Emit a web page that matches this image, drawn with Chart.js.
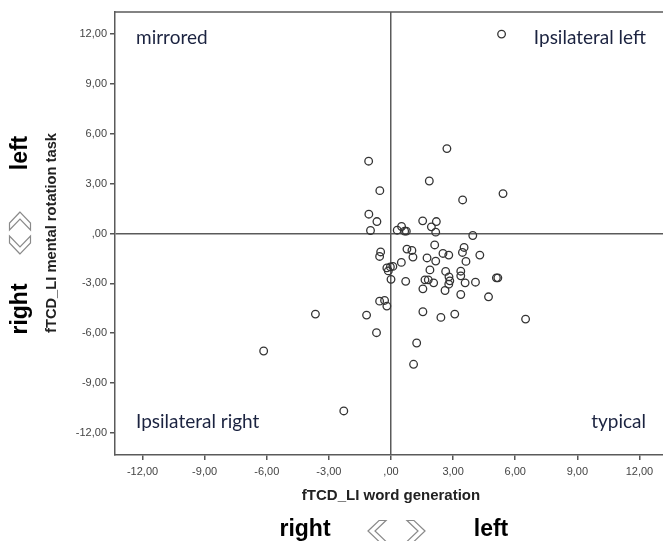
<!DOCTYPE html>
<html lang="en">
<head>
  <meta charset="UTF-8" />
  <title>fTCD LI scatter</title>
  <style>
    html, body { margin: 0; padding: 0; background: #fff; overflow: hidden; }
    .wrap { width: 663px; height: 541px; overflow: hidden; }
  </style>
  <script src="https://cdn.jsdelivr.net/npm/chart.js"></script>
</head>
<body>
  <div class="wrap">
    <canvas id="chart" width="680" height="541"></canvas>
  </div>
<script>
  // word generation LI (x) / mental rotation LI (y), one pair per participant
  const wordGen = [5.34, -1.08, 2.70, -0.54, 1.85, 5.41, 3.46, -1.07, -0.68, -0.99,
    1.53, 2.19, 1.95, 2.16, 0.51, 0.30, 0.66, 0.74, 3.95, 2.11,
    3.53, 3.45, 4.29, -0.50, -0.55, 0.77, 1.01, 1.06, 1.74, 2.16,
    2.51, 2.79, 3.62, 0.50, -0.20, -0.03, 0.09, -0.13, 0.00, 0.71,
    1.88, 2.64, 3.37, 3.37, 2.80, 2.84, 2.79, 1.64, 1.80, 2.06,
    3.58, 4.08, 5.09, 5.16, 1.54, 2.61, 3.37, 4.71, -0.55, -0.31,
    -0.20, -1.18, -3.65, 1.54, 2.41, 3.08, 6.50, -0.70, 1.24, 1.09,
    -6.15, -2.28]
  const mentalRot = [12.00, 4.35, 5.11, 2.58, 3.16, 2.40, 2.02, 1.16, 0.72, 0.18,
    0.76, 0.72, 0.40, 0.08, 0.42, 0.20, 0.14, 0.14, -0.12, -0.69,
    -0.84, -1.14, -1.30, -1.11, -1.38, -0.94, -1.02, -1.42, -1.47, -1.66,
    -1.20, -1.30, -1.68, -1.74, -2.07, -2.01, -1.98, -2.25, -2.76, -2.88,
    -2.19, -2.28, -2.27, -2.55, -2.61, -2.85, -3.05, -2.79, -2.79, -2.97,
    -2.97, -2.93, -2.67, -2.67, -3.33, -3.43, -3.67, -3.81, -4.07, -4.03,
    -4.37, -4.91, -4.85, -4.71, -5.05, -4.85, -5.15, -5.97, -6.59, -7.87,
    -7.07, -10.68]
  const tickValues = [-12, -9, -6, -3, 0, 3, 6, 9, 12]
  const quadrantLabels = ["mirrored", "Ipsilateral left", "Ipsilateral right", "typical"]
  const xTitle = "fTCD_LI word generation"
  const yTitle = "fTCD_LI mental rotation task"

  const points = wordGen.map((x, i) => ({ x: x, y: mentalRot[i] }))

  function fmt(v) {
    let s = Math.abs(v).toFixed(2).replace(".", ",")
    if (s.startsWith("0")) s = s.slice(1)
    return (v < 0 ? "-" : "") + s
  }

  // outline of a thick chevron, tip pointing left (dir=-1) or right (dir=1)
  function chevron(ctx, cx, cy, w, h, t, dir) {
    ctx.save()
    ctx.translate(cx, cy)
    ctx.scale(-dir, 1)
    ctx.beginPath()
    ctx.moveTo(-w / 2, 0)
    ctx.lineTo(w / 2 - t, -h / 2)
    ctx.lineTo(w / 2, -h / 2)
    ctx.lineTo(-w / 2 + t, 0)
    ctx.lineTo(w / 2, h / 2)
    ctx.lineTo(w / 2 - t, h / 2)
    ctx.closePath()
    ctx.restore()
  }

  const decor = {
    id: "decor",
    afterDraw(chart) {
      const ctx = chart.ctx
      const a = chart.chartArea
      ctx.save()
      // frame top edge
      ctx.strokeStyle = "#5a5a5a"
      ctx.lineWidth = 1.5
      ctx.beginPath()
      ctx.moveTo(a.left, a.top)
      ctx.lineTo(a.right, a.top)
      ctx.stroke()

      // quadrant words
      ctx.fillStyle = "#1b2340"
      ctx.font = "19px Lato"
      ctx.textBaseline = "middle"
      ctx.textAlign = "left"
      ctx.fillText(quadrantLabels[0], 136, 38)
      ctx.fillText(quadrantLabels[2], 136, 422)
      ctx.textAlign = "right"
      ctx.fillText(quadrantLabels[1], 646, 38)
      ctx.fillText(quadrantLabels[3], 646, 422)

      // axis titles
      ctx.fillStyle = "#222"
      ctx.textAlign = "center"
      ctx.font = "bold 15px 'Liberation Sans'"
      ctx.fillText(xTitle, 391, 496)
      ctx.save()
      ctx.translate(52, 233)
      ctx.rotate(-Math.PI / 2)
      ctx.font = "bold 14.7px 'Liberation Sans'"
      ctx.fillText(yTitle, 0, 0)
      ctx.restore()

      // direction words
      ctx.fillStyle = "#000"
      ctx.font = "bold 23px 'Liberation Sans'"
      ctx.textBaseline = "alphabetic"
      ctx.fillText("right", 305, 536)
      ctx.fillText("left", 491, 536)
      ctx.save()
      ctx.translate(27, 0)
      ctx.rotate(-Math.PI / 2)
      ctx.fillText("left", -153, 0)
      ctx.fillText("right", -309, 0)
      ctx.restore()

      // chevrons
      ctx.strokeStyle = "#8a8a8a"
      ctx.lineWidth = 1.2
      ctx.lineJoin = "miter"
      chevron(ctx, 377, 531, 18, 21, 7, -1); ctx.stroke()
      chevron(ctx, 416, 531, 18, 21, 7, 1); ctx.stroke()
      ctx.save()
      ctx.translate(20, 233)
      ctx.rotate(-Math.PI / 2)
      chevron(ctx, -12, 0, 18, 21, 7, -1); ctx.stroke()
      chevron(ctx, 12, 0, 18, 21, 7, 1); ctx.stroke()
      ctx.restore()
      ctx.restore()
    }
  }

  const axisCommon = {
    type: "linear",
    min: -13.33,
    max: 13.33,
    afterBuildTicks: (scale) => { scale.ticks = tickValues.map(v => ({ value: v })) },
    grid: {
      drawOnChartArea: true,
      color: (c) => (c.tick && c.tick.value === 0 ? "#5a5a5a" : "rgba(0,0,0,0)"),
      lineWidth: 1.5,
      tickColor: "#555",
      tickLength: 5
    },
    border: { display: true, color: "#5a5a5a", width: 1.5 },
    ticks: {
      color: "#444",
      font: { family: "'Liberation Sans'", size: 11 },
      callback: (v) => fmt(v)
    }
  }

  new Chart(document.querySelector("#chart"), {
    type: "scatter",
    data: {
      datasets: [{
        data: points,
        pointStyle: "circle",
        pointRadius: 3.8,
        pointBorderWidth: 1.3,
        borderColor: "#333",
        backgroundColor: "rgba(0,0,0,0)"
      }]
    },
    options: {
      responsive: false,
      animation: false,
      devicePixelRatio: 1,
      layout: { padding: { top: 12, right: 13, left: 0, bottom: 0 } },
      plugins: { legend: { display: false }, tooltip: { enabled: false } },
      scales: {
        x: Object.assign({}, axisCommon, {
          position: "bottom",
          ticks: Object.assign({}, axisCommon.ticks, { padding: 5, maxRotation: 0 }),
          afterFit: (s) => { s.height = 86 }
        }),
        y: Object.assign({}, axisCommon, {
          position: "left",
          ticks: Object.assign({}, axisCommon.ticks, { padding: 3 }),
          afterFit: (s) => { s.width = 115 }
        })
      }
    },
    plugins: [decor]
  })
</script>
</body>
</html>
